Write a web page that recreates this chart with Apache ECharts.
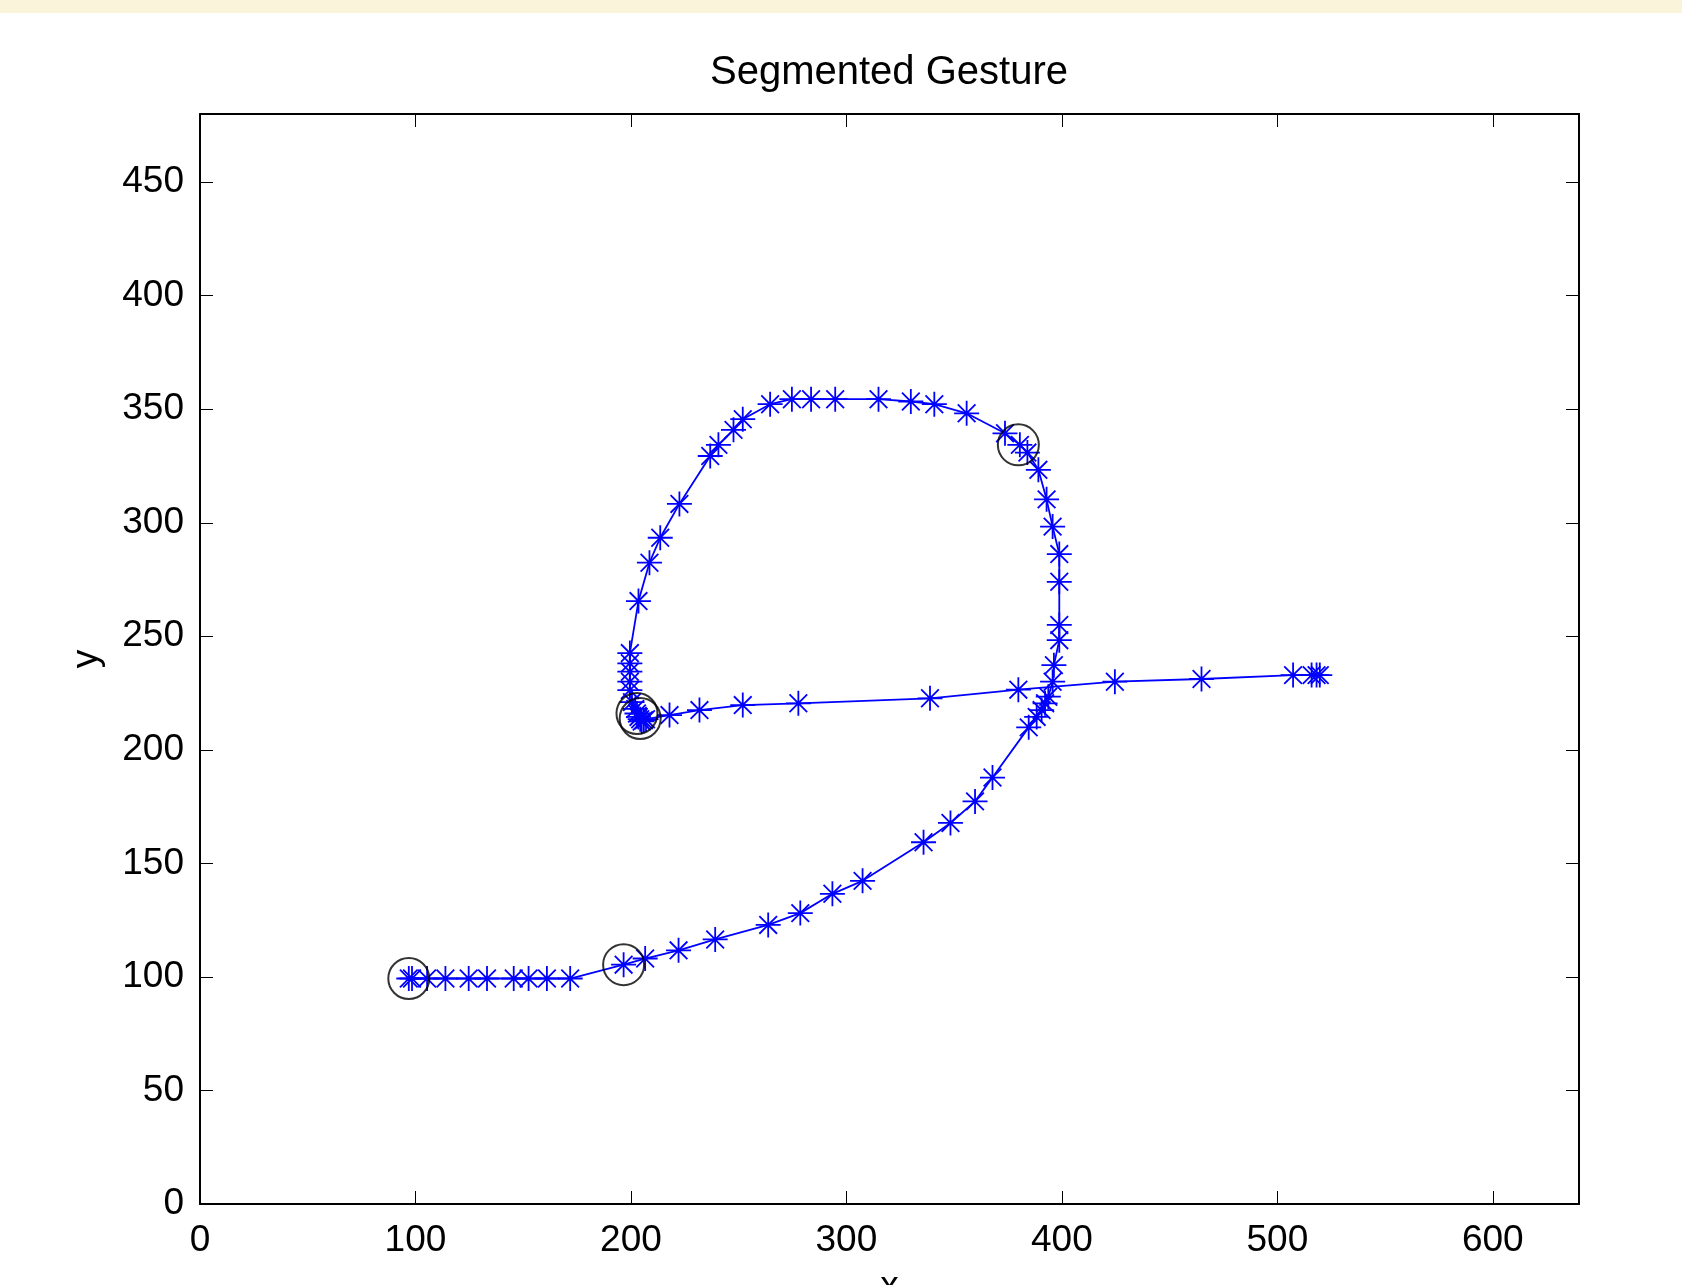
<!DOCTYPE html>
<html>
<head>
<meta charset="utf-8">
<script src="https://cdn.jsdelivr.net/npm/echarts@6/dist/echarts.min.js"></script>
<style>
html,body{margin:0;padding:0;background:#ffffff;}
#chart{width:1682px;height:1285px;}
</style>
</head>
<body>
<div id="chart"></div>
<script>
// Gesture trajectory (x, y) in drawing order
var gestureX = [96.9, 98.4, 105.4, 113.9, 124.7, 133.2, 145.6, 152.5, 161.0, 171.8,
  196.6, 206.6, 222.1, 239.1, 263.7, 278.6, 293.5, 307.5, 335.8, 348.3, 359.7, 367.8,
  384.6, 388.3, 390.6, 392.2, 393.7, 395.7, 396.3, 398.8, 398.8, 398.8, 398.8, 395.7,
  392.9, 389.1, 384.0, 380.5, 373.6, 355.8, 340.8, 329.9, 314.9, 294.8, 283.6, 274.7,
  264.6, 251.9, 247.6, 240.6, 236.8, 222.5, 213.6, 208.6, 203.5, 199.5, 199.5, 199.5,
  199.5, 199.5, 200.5, 202.0, 202.8, 203.5, 204.3, 205.0, 206.0, 207.0, 217.9, 231.8,
  251.9, 277.7, 338.8, 379.8, 424.6, 464.8, 507.3, 515.9, 518.2, 519.7];
var gestureY = [99.3, 99.3, 99.3, 99.3, 99.3, 99.3, 99.3, 99.3, 99.3, 99.3,
  105.4, 108.1, 111.7, 116.5, 122.9, 128.1, 136.6, 142.3, 159.3, 167.8, 177.3, 187.8,
  209.9, 214.5, 217.5, 220.5, 223.4, 230.0, 237.3, 248.3, 255.0, 274.0, 286.2, 298.3,
  310.3, 323.3, 330.9, 334.3, 339.4, 348.2, 352.2, 353.4, 354.4, 354.4, 354.4, 354.4,
  352.2, 345.6, 340.9, 334.3, 329.4, 308.3, 293.4, 282.4, 265.5, 242.6, 238.1, 234.4,
  230.0, 226.3, 221.0, 218.0, 216.0, 214.5, 213.5, 212.5, 213.0, 213.5, 215.3, 217.5,
  219.7, 220.5, 222.7, 226.5, 230.0, 231.2, 232.9, 232.9, 232.9, 232.9];
// Segmentation points (black circles)
var segmentX = [96.9, 196.6, 202.8, 204.3, 379.8];
var segmentY = [99.3, 105.4, 216.0, 213.8, 334.3];

var titleText = 'Segmented Gesture';
var xName = 'x';
var yName = 'y';

var gesture = gestureX.map(function (x, i) { return [x, gestureY[i]]; });
var segments = segmentX.map(function (x, i) { return [x, segmentY[i]]; });

var FONT = "'Liberation Sans', Helvetica, Arial, sans-serif";
var star = 'path://M0,-10 L0,10 M-10,0 L10,0 M-7.07,-7.07 L7.07,7.07 M-7.07,7.07 L7.07,-7.07';

function axisCommon(extra) {
  var base = {
    type: 'value',
    axisLine: { show: true, onZero: false, lineStyle: { color: '#000', width: 2 } },
    axisTick: { show: true, inside: true, length: 13, lineStyle: { color: '#000', width: 1 } },
    splitLine: { show: false },
    axisLabel: { show: false }
  };
  for (var k in extra) base[k] = extra[k];
  return base;
}

var chart = echarts.init(document.getElementById('chart'), null, { renderer: 'canvas' });
chart.setOption({
  animation: false,
  backgroundColor: '#ffffff',
  graphic: [{
    type: 'rect', left: 0, top: 0, silent: true,
    shape: { width: 1682, height: 13 },
    style: { fill: '#f9f4da' }
  }],
  title: {
    text: titleText, left: 884, top: 48, textAlign: 'center',
    textStyle: { fontFamily: FONT, fontSize: 40, fontWeight: 'normal', color: '#000', lineHeight: 40 }
  },
  grid: { left: 200, right: 103, top: 114, bottom: 81, containLabel: false, outerBoundsMode: 'none' },
  xAxis: [
    axisCommon({
      position: 'bottom', min: 0, max: 640, interval: 100,
      name: xName, nameLocation: 'middle', nameGap: 64,
      nameTextStyle: { fontFamily: FONT, fontSize: 37, color: '#000' },
      axisLabel: { show: true, showMaxLabel: false, margin: 18, fontFamily: FONT, fontSize: 37, color: '#000' }
    }),
    axisCommon({ position: 'top', min: 0, max: 640, interval: 100 })
  ],
  yAxis: [
    axisCommon({
      position: 'left', min: 0, max: 480, interval: 50,
      name: yName, nameLocation: 'middle', nameGap: 95,
      nameTextStyle: { fontFamily: FONT, fontSize: 37, color: '#000' },
      axisLabel: { show: true, showMaxLabel: false, margin: 16, fontFamily: FONT, fontSize: 37, color: '#000' }
    }),
    axisCommon({ position: 'right', min: 0, max: 480, interval: 50 })
  ],
  series: [
    {
      type: 'line',
      data: gesture,
      xAxisIndex: 0, yAxisIndex: 0,
      symbol: star,
      symbolSize: 25,
      showSymbol: true,
      showAllSymbol: true,
      lineStyle: { color: '#0000ff', width: 1.8 },
      itemStyle: { color: '#0000ff', borderColor: '#0000ff', borderWidth: 1.8 },
      emphasis: { disabled: true },
      silent: true,
      z: 2
    },
    {
      type: 'scatter',
      data: segments,
      symbol: 'circle',
      symbolSize: 41,
      itemStyle: { color: 'rgba(0,0,0,0)', borderColor: '#000', borderWidth: 2 },
      emphasis: { disabled: true },
      silent: true,
      z: 3
    }
  ]
});
</script>
</body>
</html>
